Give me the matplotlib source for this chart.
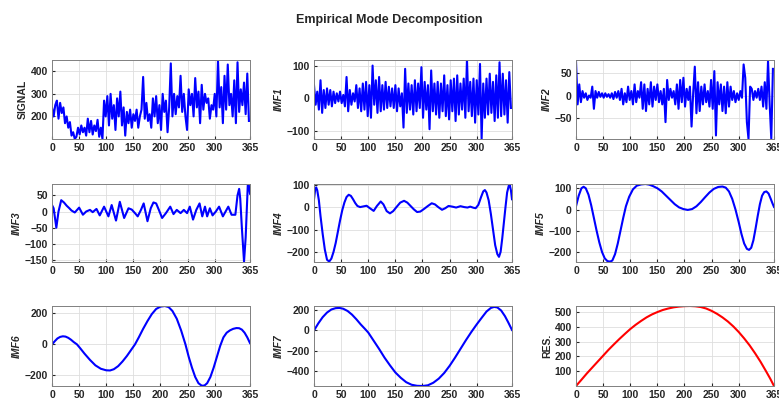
import numpy as np
import matplotlib
matplotlib.use('Agg')
import matplotlib.pyplot as plt

plt.rcParams['font.family'] = ['Liberation Sans', 'DejaVu Sans']

# daily series sampled every 3 days (0..363)
days_noisy = list(range(0, 366, 3))

signal = [240, 200, 250, 270, 190, 260, 215, 240, 170, 200, 150, 175, 115, 130, 100, 110,
          150, 120, 160, 130, 150, 115, 190, 130, 180, 120, 160, 135, 185, 110, 150, 100,
          270, 200, 290, 160, 300, 190, 250, 140, 280, 200, 310, 160, 240, 115, 220, 170,
          230, 150, 210, 180, 230, 150, 200, 230, 375, 190, 260, 180, 210, 150, 280, 200,
          290, 170, 250, 140, 300, 220, 270, 130, 240, 435, 200, 300, 210, 290, 240, 380,
          220, 300, 200, 140, 320, 250, 300, 200, 370, 240, 310, 170, 340, 230, 300, 260,
          280, 190, 250, 230, 300, 200, 450, 240, 330, 170, 380, 230, 430, 250, 300, 200,
          360, 170, 440, 220, 320, 250, 350, 210, 390, 180]

imf1 = [40, -20, 20, -35, 55, -45, 25, -30, 30, -20, 25, -25, 20, -15, 15, -10,
        20, -15, 10, -25, 65, -40, 25, -20, 15, -10, 40, -30, 30, -40, 45, -35,
        50, -55, 40, -60, 100, -20, 55, -45, 65, -40, 40, -35, 50, -30, 35, -25,
        30, -30, 40, -40, 30, -25, 15, -90, 90, -45, 45, -35, 40, -50, 55, -40,
        45, -30, 95, -60, 50, -35, 40, -95, 85, -40, 45, -50, 50, -60, 45, -40,
        70, -55, 40, -65, 55, -40, 60, -70, 70, -50, 45, -35, 60, -60, 120, -40,
        50, -55, 60, -75, 55, -50, 105, -125, 45, -60, 60, -50, 75, -45, 50, -70,
        70, -60, 110, -55, 75, -50, 55, -75, 80, -30]

imf2 = [78, -20, 25, -15, 10, -5, 5, -10, 0, -5, 20, -30, 10, -5, 8, -3,
        5, -5, 5, -3, 3, -5, 5, -8, 8, -5, 10, -10, 15, -20, 5, -15,
        20, -10, 10, -20, 25, -15, 10, -5, 30, -30, 25, -35, 15, -20, 30, -25,
        20, -10, 25, -15, 10, -20, 15, -60, 35, -10, 15, -5, 10, -20, 25, -30,
        35, -15, 40, -25, 15, -10, 20, -70, 5, 65, -40, 30, -35, 20, -20, 25,
        -15, 10, -25, 35, -30, 55, -90, 30, -20, 25, -35, 20, -40, 30, -25, 20,
        -10, 10, -15, 5, -10, 10, -5, 70, 40, -60, -98, 20, 15, -10, 10, -5,
        15, -10, 20, -25, 30, -30, 78, -20, -98, 60]

# smooth components, read at knot days
imf3_days = [0, 3, 8, 12, 17, 22, 27, 32, 36, 42, 50, 57, 63, 70, 75, 82, 88, 96, 104, 110,
             118, 125, 133, 141, 147, 153, 158, 164, 169, 176, 182, 187, 192, 197, 203, 210,
             218, 224, 230, 237, 243, 249, 254, 260, 266, 272, 277, 282, 286, 291, 296, 302,
             308, 315, 320, 325, 331, 338, 342, 345, 347, 350, 354, 357, 361, 363, 365]
imf3 = [20, 10, -50, 0, 35, 28, 18, 10, 3, -3, 12, -10, 0, 5, -2, 8, -12, 15, -15, 20,
        -28, 30, -20, 10, 6, -5, -15, 5, 25, -30, 10, 28, 25, 5, -20, -5,
        15, -8, 5, -5, 5, -5, 15, -25, 5, 25, -15, 15, -15, 10, -12, 0,
        15, -15, 0, 15, -10, -10, 50, 70, 40, -50, -155, -80, 85, 80, 55]

imf4_days = [0, 2, 4, 6, 9, 12, 16, 20, 24, 28, 32, 36, 40, 44, 48, 52, 56, 60, 64, 68,
             72, 76, 80, 85, 91, 97, 103, 110, 116, 123, 128, 134, 140, 146, 152, 159, 166,
             172, 178, 184, 190, 196, 203, 210, 217, 223, 229, 236, 242, 248, 255, 262, 270,
             277, 283, 288, 294, 298, 303, 308, 312, 315, 318, 322, 326, 330, 334, 338, 341,
             344, 347, 350, 353, 356, 359, 361, 363, 365]
imf4 = [35, 75, 88, 75, 30, -40, -120, -190, -235, -243, -230, -200, -160, -110, -60, -15,
        20, 45, 55, 50, 35, 18, 5, 0, 3, 6, -5, -17, 5, 25, 12, -18, -28, -18, 0, 20, 28,
        20, 5, -10, -22, -20, -8, 5, 17, 12, 0, -12, -5, 5, 2, -2, 4,
        0, -2, 2, -3, -5, 10, 45, 70, 76, 65, 30, -30, -100, -170, -210, -222,
        -200, -140, -70, 0, 65, 95, 98, 75, 35]

imf5_days = [0, 5, 10, 14, 18, 23, 28, 33, 38, 43, 48, 53, 58, 63, 67, 72, 77, 82, 87, 92,
             98, 105, 112, 120, 128, 135, 142, 150, 158, 166, 174, 182, 190, 198, 206, 214,
             222, 230, 238, 246, 254, 262, 270, 276, 282, 288, 294, 300, 305, 310, 315, 319,
             323, 327, 331, 335, 339, 343, 347, 351, 355, 359, 362, 365]
imf5 = [15, 65, 100, 107, 100, 70, 20, -40, -100, -155, -200, -230, -243, -245, -240, -210,
        -160, -100, -40, 15, 60, 95, 112, 118, 120, 117, 110, 100, 85, 65, 45, 25, 10, 2,
        -2, 2, 15, 35, 58, 80, 97, 106, 108, 103, 85, 50, 0, -60, -115, -160, -185, -190,
        -180, -145, -90, -30, 25, 65, 82, 85, 75, 50, 30, 12]

imf6_days = [0, 5, 10, 15, 20, 25, 30, 35, 40, 46, 52, 60, 70, 80, 90, 100, 107, 114, 122,
             130, 138, 145, 153, 160, 168, 176, 184, 192, 200, 208, 215, 222, 230, 238, 246,
             252, 258, 264, 270, 276, 281, 286, 292, 298, 304, 310, 316, 322, 328, 334, 340,
             345, 350, 355, 360, 365]
imf6 = [0, 20, 38, 48, 52, 50, 42, 30, 15, 0, -25, -60, -100, -135, -157, -167, -168, -160,
        -140, -110, -75, -40, 0, 45, 100, 150, 195, 228, 243, 247, 240, 215, 165, 90, 0,
        -80, -150, -210, -250, -266, -265, -250, -210, -150, -80, -10, 45, 75, 90, 100, 105,
        104, 95, 75, 45, 8]

imf7_days = [0, 8, 16, 24, 32, 40, 47, 54, 62, 70, 78, 86, 94, 100, 110, 120, 130, 140, 150,
             160, 170, 180, 190, 200, 210, 220, 230, 240, 250, 260, 270, 280, 290, 300, 310,
             318, 326, 332, 338, 345, 352, 358, 365]
imf7 = [0, 70, 130, 175, 205, 218, 220, 212, 190, 155, 110, 60, 15, -20, -100, -180, -265,
        -340, -410, -462, -505, -530, -540, -542, -535, -510, -470, -415, -345, -265, -180,
        -95, -15, 60, 130, 185, 220, 230, 225, 195, 140, 80, 5]

res_days = [0, 10, 20, 30, 40, 50, 60, 70, 80, 90, 100, 110, 120, 130, 140, 150, 160, 170,
            180, 190, 200, 210, 220, 230, 240, 250, 260, 270, 280, 290, 300, 310, 320, 330,
            340, 350, 358, 365]
res = [0, 42, 85, 125, 165, 205, 245, 282, 318, 352, 385, 414, 440, 464, 484, 500, 514, 524,
       532, 537, 540, 541, 539, 534, 524, 508, 488, 464, 436, 403, 365, 322, 275, 222, 165,
       102, 50, 0]

panels = [
    (days_noisy, signal, 'SIGNAL', 'normal', [200, 300, 400], (100, 450), 'b'),
    (days_noisy, imf1, 'IMF1', 'italic', [-100, 0, 100], (-125, 117), 'b'),
    (days_noisy, imf2, 'IMF2', 'italic', [-50, 0, 50], (-98, 80), 'b'),
    (imf3_days, imf3, 'IMF3', 'italic', [-150, -100, -50, 0, 50], (-156, 85), 'b'),
    (imf4_days, imf4, 'IMF4', 'italic', [-200, -100, 0, 100], (-245, 103), 'b'),
    (imf5_days, imf5, 'IMF5', 'italic', [-200, -100, 0, 100], (-247, 120), 'b'),
    (imf6_days, imf6, 'IMF6', 'italic', [-200, 0, 200], (-268, 247), 'b'),
    (imf7_days, imf7, 'IMF7', 'italic', [-400, -200, 0, 200], (-542, 239), 'b'),
    (res_days, res, 'RES.', 'normal', [100, 200, 300, 400, 500], (0, 541), 'r'),
]
xticks = [0, 50, 100, 150, 200, 250, 300, 365]

fig = plt.figure(figsize=(7.79, 4.03), dpi=100)

lefts = [52, 314, 576]
tops = [60, 184, 306]
heights = [79, 78, 80]
W, H = 779.0, 403.0

for k, (x, y, label, fstyle, yticks, ylim, col) in enumerate(panels):
    r, c = k // 3, k % 3
    ax = fig.add_axes([lefts[c] / W, 1 - (tops[r] + heights[r]) / H, 198 / W, heights[r] / H])
    ax.plot(x, y, color=col, linewidth=1.5)
    ax.set_xlim(0, 365)
    ax.set_ylim(*ylim)
    ax.set_xticks(xticks)
    ax.set_yticks(yticks)
    ax.grid(True, color='#dedede', linewidth=0.6)
    ax.set_axisbelow(True)
    ax.tick_params(direction='in', length=2, labelsize=7.5, colors='#262626', pad=3)
    for t in ax.get_xticklabels() + ax.get_yticklabels():
        t.set_fontweight('bold')
    for s in ax.spines.values():
        s.set_color('#808080')
        s.set_linewidth(0.7)
    ax.set_ylabel(label, fontsize=7.5, fontweight='bold', style=fstyle, color='#262626', labelpad=2)

fig.text(0.5, 1 - 20 / H, 'Empirical Mode Decomposition', ha='center', va='center',
         fontsize=9, fontweight='bold', color='#262626')

fig.savefig('out.png', dpi=100)
